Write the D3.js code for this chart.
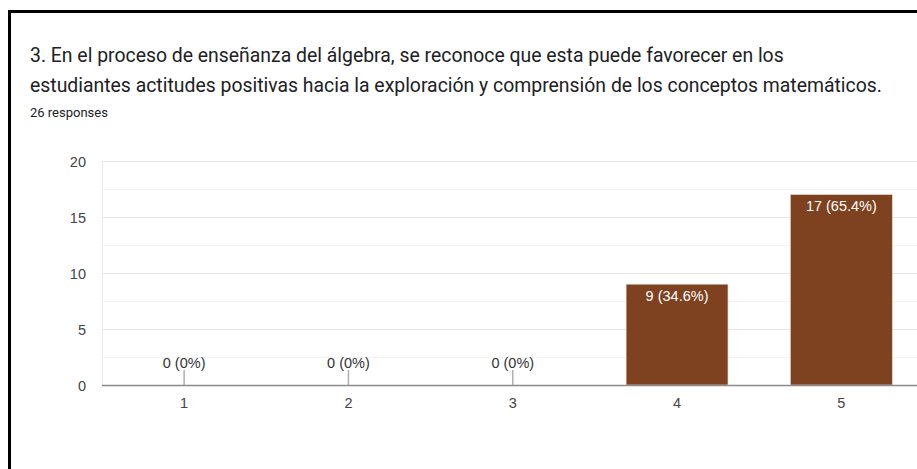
<!DOCTYPE html>
<html><head><meta charset="utf-8">
<script src="https://cdn.jsdelivr.net/npm/d3@7"></script>
<style>html,body{margin:0;padding:0;background:#fff;overflow:hidden}</style>
</head><body>
<svg id="c" width="917" height="469"></svg>
<script>
const titleLines = ["3. En el proceso de enseñanza del álgebra, se reconoce que esta puede favorecer en los",
  "estudiantes actitudes positivas hacia la exploración y comprensión de los conceptos matemáticos."];
const subtitle = "26 responses";
const categories = ["1","2","3","4","5"];
const values = [0,0,0,9,17];
const labels = ["0 (0%)","0 (0%)","0 (0%)","9 (34.6%)","17 (65.4%)"];
const yTicks = [0,5,10,15,20];
const yMinorTicks = [2.5,7.5,12.5,17.5];

const svg = d3.select("#c");
// card border
svg.append("path").attr("d","M9.5,480 L9.5,11.5 L930,11.5").attr("fill","none").attr("stroke","#000").attr("stroke-width",3);

const t = svg.append("g").attr("font-family","Roboto, Arial, sans-serif").attr("fill","#202124");
t.selectAll("text.title").data(titleLines).join("text").attr("class","title")
  .attr("x",30).attr("y",(d,i)=>62+i*30).attr("font-size",19.4).text(d=>d);
t.append("text").attr("x",30).attr("y",117).attr("font-size",13).text(subtitle);

const x = d3.scaleBand().domain(categories).range([102,923.5]).paddingInner(0.38).paddingOuter(0.19);
const y = d3.scaleLinear().domain([0,20]).range([385,161]);

const g = svg.append("g").attr("font-family","Arial, Liberation Sans, sans-serif");
g.selectAll("line.minor").data(yMinorTicks).join("line").attr("class","minor")
  .attr("x1",102).attr("x2",917).attr("y1",d=>Math.round(y(d))+0.5).attr("y2",d=>Math.round(y(d))+0.5)
  .attr("stroke","#f3f3f3").attr("stroke-width",1);
g.selectAll("line.major").data(yTicks.filter(d=>d>0)).join("line").attr("class","major")
  .attr("x1",102).attr("x2",917).attr("y1",d=>Math.round(y(d))+0.5).attr("y2",d=>Math.round(y(d))+0.5)
  .attr("stroke","#e6e6e6").attr("stroke-width",1);
g.append("line").attr("x1",102.5).attr("x2",102.5).attr("y1",y(20)).attr("y2",y(0)).attr("stroke","#ececec");

g.selectAll("text.ytick").data(yTicks).join("text").attr("class","ytick")
  .attr("x",86).attr("y",d=>y(d)+5.5).attr("text-anchor","end").attr("font-size",14.5).attr("fill","#444").text(d=>d);

const data = categories.map((c,i)=>({c, v:values[i], l:labels[i]}));
g.selectAll("rect.bar").data(data.filter(d=>d.v>0)).join("rect").attr("class","bar")
  .attr("x",d=>x(d.c)).attr("width",x.bandwidth()).attr("y",d=>y(d.v)).attr("height",d=>y(0)-y(d.v))
  .attr("fill","#7e4220").attr("stroke","#e8d6cc").attr("stroke-width",0.6);

// zero stems
g.selectAll("line.stem").data(data.filter(d=>d.v===0)).join("line").attr("class","stem")
  .attr("x1",d=>x(d.c)+x.bandwidth()/2).attr("x2",d=>x(d.c)+x.bandwidth()/2)
  .attr("y1",y(0)-15).attr("y2",y(0)).attr("stroke","#b0b0b0").attr("stroke-width",1.5);

g.append("line").attr("x1",102).attr("x2",917).attr("y1",y(0)+0.5).attr("y2",y(0)+0.5).attr("stroke","#8a8a8a").attr("stroke-width",1.6);

g.selectAll("text.lab").data(data).join("text").attr("class","lab")
  .attr("x",d=>x(d.c)+x.bandwidth()/2)
  .attr("y",d=>d.v>0 ? y(d.v)+16.5 : y(0)-17)
  .attr("text-anchor","middle").attr("font-size",14.5)
  .attr("fill",d=>d.v>0?"#fff":"#333").text(d=>d.l);

g.selectAll("text.xtick").data(categories).join("text").attr("class","xtick")
  .attr("x",d=>x(d)+x.bandwidth()/2).attr("y",408).attr("text-anchor","middle")
  .attr("font-size",14.5).attr("fill","#444").text(d=>d);
</script>
</body></html>
